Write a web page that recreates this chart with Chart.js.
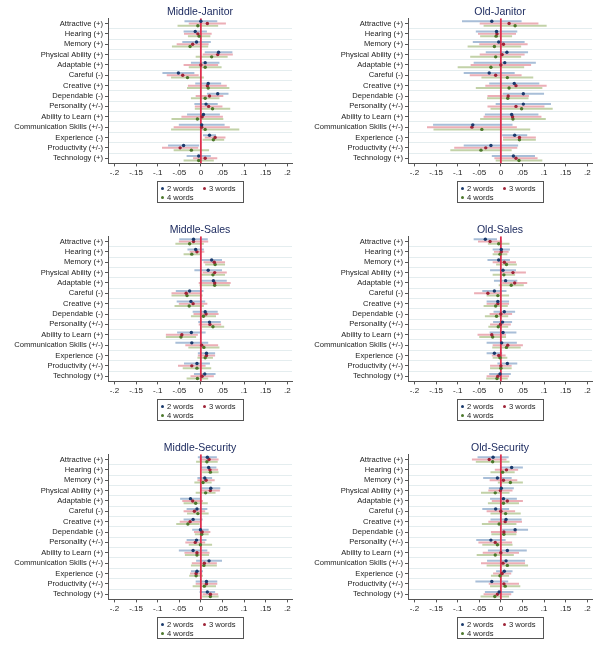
<!DOCTYPE html>
<html>
<head>
<meta charset="utf-8">
<script src="https://cdn.jsdelivr.net/npm/chart.js@4.4.1/dist/chart.umd.min.js"></script>
<style>
  body { margin: 0; background: #fff; width: 600px; height: 651px; position: relative; overflow: hidden;
         font-family: "Liberation Sans", Arial, sans-serif; }
  .panel { position: absolute; width: 300px; height: 215px; }
  .legend { position: absolute; left: 157px; top: 181px; width: 87px; height: 22px;
            border: 1px solid #555; box-sizing: border-box; font-size: 7.6px; color: #222; }
  .item { position: absolute; white-space: nowrap; line-height: 9px; }
  .item i { display: inline-block; width: 3px; height: 3px; border-radius: 50%; margin-right: 3px; vertical-align: 1px; }
</style>
</head>
<body>
<div id="root"></div>
<script>
const categories = [
  'Attractive (+)', 'Hearing (+)', 'Memory (+)', 'Physical Ability (+)', 'Adaptable (+)',
  'Careful (-)', 'Creative (+)', 'Dependable (-)', 'Personality (+/-)', 'Ability to Learn (+)',
  'Communication Skills (+/-)', 'Experience (-)', 'Productivity (+/-)', 'Technology (+)'
];
const seriesLabels = ['2 words', '3 words', '4 words'];
const xTickValues = [-0.2, -0.15, -0.1, -0.05, 0, 0.05, 0.1, 0.15, 0.2];
const xTickLabels = ['-.2', '-.15', '-.1', '-.05', '0', '.05', '.1', '.15', '.2'];

// point estimates and CI half-widths
const midJanitor2 = [0.000, -0.013, -0.010, 0.041, 0.010, -0.052, 0.017, 0.039, 0.012, 0.006, 0.002, 0.020, -0.040, -0.005];
const midJanitor2Ci = [0.038, 0.027, 0.033, 0.032, 0.033, 0.037, 0.030, 0.025, 0.027, 0.038, 0.053, 0.015, 0.036, 0.028];
const midJanitor3 = [0.015, -0.007, -0.019, 0.039, 0.000, -0.042, 0.015, 0.020, 0.018, 0.003, 0.002, 0.033, -0.048, 0.010];
const midJanitor3Ci = [0.043, 0.032, 0.037, 0.035, 0.040, 0.037, 0.045, 0.032, 0.032, 0.048, 0.065, 0.024, 0.042, 0.028];
const midJanitor4 = [-0.007, -0.004, -0.025, 0.025, 0.010, -0.031, 0.017, 0.010, 0.027, -0.008, 0.010, 0.029, -0.022, -0.005];
const midJanitor4Ci = [0.047, 0.026, 0.042, 0.037, 0.038, 0.038, 0.049, 0.033, 0.041, 0.060, 0.079, 0.025, 0.041, 0.035];

const oldJanitor2 = [-0.021, -0.010, -0.005, 0.014, 0.009, -0.027, 0.031, 0.052, 0.052, 0.025, -0.065, 0.032, -0.023, 0.029];
const oldJanitor2Ci = [0.069, 0.048, 0.060, 0.049, 0.072, 0.059, 0.058, 0.048, 0.064, 0.062, 0.092, 0.029, 0.063, 0.050];
const oldJanitor3 = [0.019, -0.009, 0.006, 0.003, 0.000, -0.012, 0.035, 0.017, 0.035, 0.027, -0.067, 0.043, -0.035, 0.035];
const oldJanitor3Ci = [0.068, 0.044, 0.056, 0.052, 0.070, 0.060, 0.071, 0.048, 0.066, 0.067, 0.104, 0.038, 0.073, 0.050];
const oldJanitor4 = [0.033, -0.011, -0.015, -0.012, -0.023, 0.015, 0.019, 0.016, 0.048, 0.028, -0.044, 0.043, -0.046, 0.042];
const oldJanitor4Ci = [0.073, 0.037, 0.062, 0.059, 0.077, 0.060, 0.077, 0.048, 0.072, 0.076, 0.112, 0.038, 0.071, 0.054];

const midSales2 = [-0.017, -0.012, 0.025, 0.017, 0.029, -0.026, -0.023, 0.010, 0.020, -0.022, -0.021, 0.013, -0.009, 0.009];
const midSales2Ci = [0.033, 0.019, 0.024, 0.032, 0.031, 0.032, 0.033, 0.029, 0.026, 0.033, 0.038, 0.020, 0.030, 0.025];
const midSales3 = [-0.017, -0.009, 0.031, 0.032, 0.032, -0.034, -0.018, 0.012, 0.021, -0.044, 0.002, 0.013, -0.021, 0.003];
const midSales3Ci = [0.034, 0.017, 0.025, 0.028, 0.037, 0.034, 0.033, 0.029, 0.026, 0.037, 0.038, 0.020, 0.032, 0.027];
const midSales4 = [-0.026, -0.021, 0.033, 0.028, 0.032, -0.032, -0.027, 0.006, 0.028, -0.046, 0.007, 0.010, -0.009, -0.008];
const midSales4Ci = [0.033, 0.019, 0.023, 0.028, 0.035, 0.036, 0.034, 0.029, 0.026, 0.035, 0.036, 0.018, 0.033, 0.025];

const oldSales2 = [-0.036, 0.001, -0.005, 0.005, 0.011, -0.015, -0.007, 0.008, 0.004, 0.005, 0.002, -0.015, 0.015, -0.002];
const oldSales2Ci = [0.027, 0.020, 0.026, 0.030, 0.027, 0.028, 0.026, 0.025, 0.022, 0.031, 0.035, 0.018, 0.023, 0.025];
const oldSales3 = [-0.025, 0.001, 0.008, 0.028, 0.032, -0.030, -0.007, 0.000, -0.001, -0.021, 0.016, -0.005, 0.000, -0.007];
const oldSales3Ci = [0.028, 0.017, 0.027, 0.030, 0.029, 0.032, 0.026, 0.026, 0.024, 0.033, 0.035, 0.016, 0.025, 0.026];
const oldSales4 = [-0.005, -0.002, 0.013, 0.007, 0.024, -0.007, -0.012, -0.010, -0.006, -0.019, 0.013, -0.002, 0.000, -0.009];
const oldSales4Ci = [0.025, 0.017, 0.024, 0.026, 0.029, 0.026, 0.028, 0.027, 0.023, 0.031, 0.033, 0.017, 0.025, 0.025];

const midSecurity2 = [0.015, 0.018, 0.009, 0.023, -0.024, -0.009, -0.018, -0.001, -0.010, -0.018, 0.019, -0.009, 0.013, 0.015];
const midSecurity2Ci = [0.022, 0.018, 0.017, 0.022, 0.024, 0.024, 0.022, 0.019, 0.023, 0.033, 0.030, 0.014, 0.025, 0.018];
const midSecurity3 = [0.019, 0.021, 0.012, 0.022, -0.019, -0.015, -0.025, 0.003, -0.013, -0.009, 0.008, -0.011, 0.013, 0.022];
const midSecurity3Ci = [0.022, 0.019, 0.020, 0.022, 0.024, 0.025, 0.024, 0.019, 0.023, 0.029, 0.029, 0.014, 0.025, 0.018];
const midSecurity4 = [0.014, 0.022, 0.005, 0.011, -0.012, -0.007, -0.030, 0.002, -0.001, -0.009, 0.007, -0.011, 0.008, 0.022];
const midSecurity4Ci = [0.025, 0.019, 0.020, 0.023, 0.028, 0.025, 0.027, 0.016, 0.027, 0.028, 0.030, 0.016, 0.027, 0.019];

const oldSecurity2 = [-0.018, 0.025, -0.008, 0.001, 0.006, -0.012, 0.012, 0.033, -0.023, 0.015, 0.012, 0.008, -0.021, -0.004];
const oldSecurity2Ci = [0.036, 0.026, 0.033, 0.029, 0.031, 0.031, 0.036, 0.030, 0.034, 0.045, 0.044, 0.019, 0.038, 0.033];
const oldSecurity3 = [-0.027, 0.013, 0.006, -0.001, 0.015, 0.000, 0.010, 0.007, -0.013, 0.000, 0.005, 0.003, 0.007, -0.008];
const oldSecurity3Ci = [0.040, 0.027, 0.032, 0.028, 0.036, 0.033, 0.039, 0.030, 0.039, 0.042, 0.051, 0.021, 0.035, 0.032];
const oldSecurity4 = [-0.019, 0.004, 0.022, -0.013, 0.006, 0.011, -0.004, 0.007, -0.008, -0.013, 0.015, -0.002, 0.010, -0.014];
const oldSecurity4Ci = [0.039, 0.028, 0.029, 0.033, 0.036, 0.035, 0.040, 0.029, 0.035, 0.043, 0.048, 0.021, 0.035, 0.033];

const panels = [
  { title: 'Middle-Janitor', left: 0, top: 0, est: [midJanitor2, midJanitor3, midJanitor4], ci: [midJanitor2Ci, midJanitor3Ci, midJanitor4Ci] },
  { title: 'Old-Janitor', left: 300, top: 0, est: [oldJanitor2, oldJanitor3, oldJanitor4], ci: [oldJanitor2Ci, oldJanitor3Ci, oldJanitor4Ci] },
  { title: 'Middle-Sales', left: 0, top: 218, est: [midSales2, midSales3, midSales4], ci: [midSales2Ci, midSales3Ci, midSales4Ci] },
  { title: 'Old-Sales', left: 300, top: 218, est: [oldSales2, oldSales3, oldSales4], ci: [oldSales2Ci, oldSales3Ci, oldSales4Ci] },
  { title: 'Middle-Security', left: 0, top: 436, est: [midSecurity2, midSecurity3, midSecurity4], ci: [midSecurity2Ci, midSecurity3Ci, midSecurity4Ci] },
  { title: 'Old-Security', left: 300, top: 436, est: [oldSecurity2, oldSecurity3, oldSecurity4], ci: [oldSecurity2Ci, oldSecurity3Ci, oldSecurity4Ci] },
];

const dotColors = ['rgb(26,58,108)', 'rgb(158,36,56)', 'rgb(76,120,44)'];
const ciColors = ['rgb(168,190,216)', 'rgb(236,174,182)', 'rgb(194,210,168)'];
const rowOffsets = [-0.22, 0, 0.22];
const yMin = -0.5;
const yMax = categories.length - 0.5;

Chart.defaults.font.family = '"Liberation Sans", Arial, sans-serif';

const makeDatasets = (panel) => {
  const points = panel.est.map((est, s) => ({
    label: seriesLabels[s],
    data: est.map((v, i) => ({ x: v, y: i + rowOffsets[s] })),
    pointRadius: 1.7,
    pointBorderWidth: 0,
    pointBackgroundColor: dotColors[s],
    showLine: false,
  }));

  const zeroLine = {
    label: 'zero',
    data: [{ x: 0, y: yMin }, { x: 0, y: yMax }],
    showLine: true,
    borderColor: 'rgb(222,48,78)',
    borderWidth: 1.8,
    pointRadius: 0,
  };

  // CI segments, one dataset per series, broken by null points
  const ciLines = panel.est.map((est, s) => ({
    label: seriesLabels[s] + ' CI',
    data: est.flatMap((v, i) => [
      { x: v - panel.ci[s][i], y: i + rowOffsets[s] },
      { x: v + panel.ci[s][i], y: i + rowOffsets[s] },
      { x: null, y: null },
    ]),
    showLine: true,
    spanGaps: false,
    borderColor: ciColors[s],
    borderWidth: 2,
    pointRadius: 0,
  }));

  return [...points, zeroLine, ...ciLines];
};

const makeConfig = (panel) => ({
  type: 'scatter',
  data: { datasets: makeDatasets(panel) },
  options: {
    responsive: false,
    animation: false,
    layout: { padding: { left: 0, right: 8, top: 0, bottom: 0 } },
    plugins: {
      legend: { display: false },
      tooltip: { enabled: false },
      title: {
        display: true,
        fullSize: false,
        text: panel.title,
        color: 'rgb(30,44,96)',
        font: { size: 10.5, weight: 'normal' },
        padding: { top: 5.7, bottom: 0 },
      },
    },
    scales: {
      y: {
        type: 'linear',
        reverse: true,
        min: yMin,
        max: yMax,
        afterBuildTicks: scale => { scale.ticks = categories.map((c, i) => ({ value: i })); },
        afterFit: scale => { scale.width = 108; },
        ticks: {
          autoSkip: false,
          padding: 2,
          color: '#222',
          font: { size: 7.6 },
          callback: (value) => categories[value],
        },
        grid: { drawOnChartArea: false, tickLength: 3, color: '#555' },
        border: { display: true, color: '#555', width: 1 },
      },
      yGrid: {
        type: 'linear',
        position: 'left',
        reverse: true,
        min: yMin,
        max: yMax,
        afterBuildTicks: scale => { scale.ticks = categories.slice(1).map((c, i) => ({ value: i + 0.5 })); },
        afterFit: scale => { scale.width = 0; },
        ticks: { display: false },
        grid: { drawTicks: false, color: 'rgb(228,237,239)', lineWidth: 1 },
        border: { display: false },
      },
      x: {
        type: 'linear',
        min: -0.215,
        max: 0.211,
        afterBuildTicks: scale => { scale.ticks = xTickValues.map(v => ({ value: v })); },
        afterFit: scale => { scale.height = 215 - 163.4; },
        ticks: {
          autoSkip: false,
          maxRotation: 0,
          padding: 2,
          color: '#222',
          font: { size: 8 },
          callback: (value, index) => xTickLabels[index],
        },
        grid: { drawOnChartArea: false, tickLength: 3, color: '#555' },
        border: { display: true, color: '#555', width: 1 },
      },
    },
  },
});

const root = document.getElementById('root');
const legendSpots = [{ left: 3, top: 2 }, { left: 45, top: 2 }, { left: 3, top: 11 }];

panels.forEach(panel => {
  const box = document.createElement('div');
  box.className = 'panel';
  box.style.left = panel.left + 'px';
  box.style.top = panel.top + 'px';
  const canvas = document.createElement('canvas');
  canvas.width = 300;
  canvas.height = 215;
  box.appendChild(canvas);

  const legend = document.createElement('div');
  legend.className = 'legend';
  seriesLabels.forEach((name, s) => {
    const item = document.createElement('span');
    item.className = 'item';
    item.style.left = legendSpots[s].left + 'px';
    item.style.top = legendSpots[s].top + 'px';
    item.innerHTML = '<i style="background:' + dotColors[s] + '"></i>' + name;
    legend.appendChild(item);
  });
  box.appendChild(legend);
  root.appendChild(box);

  new Chart(canvas, makeConfig(panel));
});
</script>
</body>
</html>
